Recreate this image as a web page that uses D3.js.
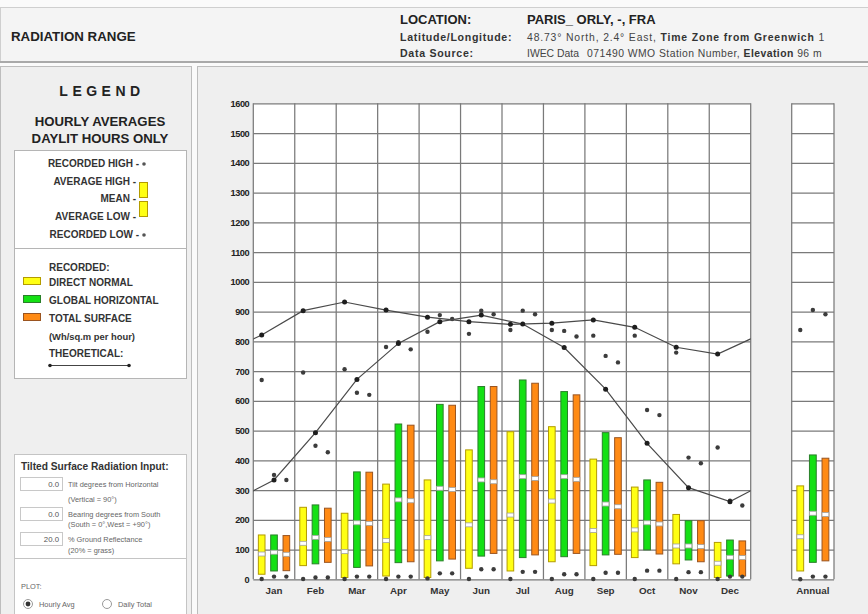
<!DOCTYPE html>
<html>
<head>
<meta charset="utf-8">
<script src="https://cdn.jsdelivr.net/npm/d3@7"></script>
<style>
  html, body { margin: 0; padding: 0; background: #ffffff; }
  svg { display: block; font-family: "Liberation Sans", Arial, sans-serif; }
</style>
</head>
<body>
<svg id="chart" width="868" height="614"></svg>
<script>
// ---- Data (Wh/sq.m per hour, hourly averages over daylit hours) ----
const months = ["Jan", "Feb", "Mar", "Apr", "May", "Jun", "Jul", "Aug", "Sep", "Oct", "Nov", "Dec"];
const yTicks = [0, 100, 200, 300, 400, 500, 600, 700, 800, 900, 1000, 1100, 1200, 1300, 1400, 1500, 1600];

// Direct normal
const directAvgHigh = [149, 242, 222, 320, 334, 435, 496, 513, 404, 310, 218, 124];
const directMean    = [85, 121, 93, 130, 140, 183, 216, 263, 164, 166, 112, 54];
const directAvgLow  = [17, 46, 6, 11, 6, 37, 28, 59, 46, 73, 52, 6];
const directRecHigh = [670, 695, 706, 781, 832, 825, 838, 838, 819, 819, 762, 443];
const directRecLow  = [1, 1, 1, 1, 3, 1, 1, 1, 1, 1, 1, 1];

// Global horizontal
const globalAvgHigh = [149, 250, 361, 522, 588, 648, 670, 631, 493, 334, 197, 132];
const globalMean    = [91, 141, 190, 267, 306, 334, 345, 345, 253, 190, 112, 74];
const globalAvgLow  = [28, 52, 40, 56, 62, 78, 73, 76, 82, 99, 65, 11];
const globalRecHigh = [351, 449, 627, 797, 888, 903, 903, 835, 751, 569, 409, 264];
const globalRecLow  = [9, 6, 9, 9, 20, 34, 25, 17, 22, 29, 24, 9];

// Total surface
const totalAvgHigh = [147, 239, 360, 518, 585, 648, 659, 620, 476, 326, 197, 129];
const totalMean    = [84, 134, 188, 264, 302, 328, 339, 336, 244, 186, 110, 73];
const totalAvgLow  = [29, 57, 45, 59, 68, 87, 82, 87, 84, 85, 59, 11];
const totalRecHigh = [334, 427, 620, 773, 875, 891, 891, 816, 729, 552, 390, 248];
const totalRecLow  = [9, 6, 9, 9, 20, 34, 25, 17, 22, 29, 24, 9];

// Theoretical clear-sky values
const theoDirect = [821, 903, 932, 905, 881, 866, 857, 861, 872, 847, 780, 757];
const theoGlobal = [334, 493, 672, 793, 866, 888, 858, 779, 639, 457, 308, 261];

// Annual figures: direct, global, total
const annualAvgHigh = [314, 418, 407];
const annualMean    = [143, 222, 218];
const annualAvgLow  = [28, 57, 62];
const annualRecHigh = [838, 905, 891];
const annualRecLow  = [0, 9, 9];

const seriesKeys = ["direct", "global", "total"];
const seriesFill   = { direct: "#ffff14", global: "#14e014", total: "#ff8a14" };
const seriesStroke = { direct: "#b39b00", global: "#2a7f2a", total: "#9a5420" };

const series = [
  { key: "direct", high: directAvgHigh, mean: directMean, low: directAvgLow, recHigh: directRecHigh, recLow: directRecLow },
  { key: "global", high: globalAvgHigh, mean: globalMean, low: globalAvgLow, recHigh: globalRecHigh, recLow: globalRecLow },
  { key: "total",  high: totalAvgHigh,  mean: totalMean,  low: totalAvgLow,  recHigh: totalRecHigh,  recLow: totalRecLow }
];

const svg = d3.select("#chart");

// ---- Page frame ----
svg.append("rect").attr("x", 0).attr("y", 0).attr("width", 868).attr("height", 614).attr("fill", "#fafafa");
svg.append("rect").attr("x", 0.5).attr("y", 7.5).attr("width", 868).attr("height", 54)
  .attr("fill", "#f4f4f4").attr("stroke", "#cfcfcf");
svg.append("line").attr("x1", 0).attr("x2", 868).attr("y1", 62).attr("y2", 62)
  .attr("stroke", "#a9a9a9").attr("stroke-width", 2);

// Header text
svg.append("text").attr("x", 11).attr("y", 41).attr("font-size", 13.3).attr("font-weight", "bold")
  .attr("fill", "#222").text("RADIATION RANGE");

svg.append("text").attr("x", 400).attr("y", 24).attr("font-size", 13).attr("font-weight", "bold")
  .attr("fill", "#222").text("LOCATION:");
svg.append("text").attr("x", 527).attr("y", 24).attr("font-size", 13).attr("font-weight", "bold")
  .attr("fill", "#222").text("PARIS_ ORLY, -, FRA");

svg.append("text").attr("x", 400).attr("y", 41).attr("font-size", 10.6).attr("font-weight", "bold")
  .attr("letter-spacing", 0.7).attr("fill", "#333").text("Latitude/Longitude:");
const lat = svg.append("text").attr("x", 527).attr("y", 41).attr("font-size", 10.4)
  .attr("letter-spacing", 0.85).attr("fill", "#444");
lat.append("tspan").text("48.73° North, 2.4° East, ");
lat.append("tspan").attr("font-weight", "bold").attr("fill", "#333").text("Time Zone from Greenwich");
lat.append("tspan").text(" 1");

svg.append("text").attr("x", 400).attr("y", 57).attr("font-size", 10.6).attr("font-weight", "bold")
  .attr("letter-spacing", 0.7).attr("fill", "#333").text("Data Source:");
svg.append("text").attr("x", 527).attr("y", 57).attr("font-size", 10.4)
  .attr("fill", "#444").text("IWEC Data");
const src = svg.append("text").attr("x", 587).attr("y", 57).attr("font-size", 10.4)
  .attr("letter-spacing", 0.45).attr("fill", "#444");
src.append("tspan").text("071490 WMO Station Number, ");
src.append("tspan").attr("font-weight", "bold").attr("fill", "#333").text("Elevation");
src.append("tspan").text(" 96 m");

// ---- Left legend panel ----
const leg = svg.append("g");
leg.append("rect").attr("x", 0.5).attr("y", 66.5).attr("width", 191).attr("height", 550)
  .attr("fill", "#efefef").attr("stroke", "#bdbdbd");

leg.append("text").attr("x", 102).attr("y", 96).attr("text-anchor", "middle").attr("font-size", 14)
  .attr("font-weight", "bold").attr("letter-spacing", 4.5).attr("fill", "#222").text("LEGEND");
leg.append("text").attr("x", 100).attr("y", 126).attr("text-anchor", "middle").attr("font-size", 13.2)
  .attr("font-weight", "bold").attr("fill", "#222").text("HOURLY AVERAGES");
leg.append("text").attr("x", 100).attr("y", 143).attr("text-anchor", "middle").attr("font-size", 13.2)
  .attr("font-weight", "bold").attr("fill", "#222").text("DAYLIT HOURS ONLY");

leg.append("rect").attr("x", 14.5).attr("y", 150.5).attr("width", 172).attr("height", 98)
  .attr("fill", "#ffffff").attr("stroke", "#b5b5b5");
leg.append("rect").attr("x", 14.5).attr("y", 248.5).attr("width", 172).attr("height", 130)
  .attr("fill", "#ffffff").attr("stroke", "#b5b5b5");

const legLabels = [
  ["RECORDED HIGH -", 167], ["AVERAGE HIGH -", 185], ["MEAN -", 202],
  ["AVERAGE LOW -", 220], ["RECORDED LOW -", 238]
];
legLabels.forEach(([t, yy]) => {
  leg.append("text").attr("x", t.startsWith("RECORDED") ? 139 : 136).attr("y", yy)
    .attr("text-anchor", "end").attr("font-size", 10).attr("font-weight", "bold")
    .attr("fill", "#333").text(t);
});
leg.append("circle").attr("cx", 144).attr("cy", 164).attr("r", 1.8).attr("fill", "#555");
leg.append("circle").attr("cx", 144).attr("cy", 235).attr("r", 1.8).attr("fill", "#555");
leg.append("rect").attr("x", 139.5).attr("y", 182.5).attr("width", 8).attr("height", 15)
  .attr("fill", seriesFill.direct).attr("stroke", seriesStroke.direct);
leg.append("rect").attr("x", 139.5).attr("y", 201.5).attr("width", 8).attr("height", 15)
  .attr("fill", seriesFill.direct).attr("stroke", seriesStroke.direct);

leg.append("text").attr("x", 49).attr("y", 271).attr("font-size", 10).attr("font-weight", "bold")
  .attr("fill", "#333").text("RECORDED:");
const swatches = [["direct", "DIRECT NORMAL", 286], ["global", "GLOBAL HORIZONTAL", 304], ["total", "TOTAL SURFACE", 322]];
swatches.forEach(([k, t, yy]) => {
  leg.append("rect").attr("x", 23.5).attr("y", yy - 8.5).attr("width", 17).attr("height", 7)
    .attr("fill", seriesFill[k]).attr("stroke", seriesStroke[k]);
  leg.append("text").attr("x", 49).attr("y", yy).attr("font-size", 10).attr("font-weight", "bold")
    .attr("fill", "#333").text(t);
});
leg.append("text").attr("x", 49).attr("y", 340).attr("font-size", 9.4).attr("font-weight", "bold")
  .attr("fill", "#333").text("(Wh/sq.m per hour)");
leg.append("text").attr("x", 49).attr("y", 357).attr("font-size", 10).attr("font-weight", "bold")
  .attr("fill", "#333").text("THEORETICAL:");
leg.append("line").attr("x1", 50).attr("x2", 129).attr("y1", 365.5).attr("y2", 365.5)
  .attr("stroke", "#444").attr("stroke-width", 1);
leg.append("circle").attr("cx", 50).attr("cy", 365.5).attr("r", 1.8).attr("fill", "#222");
leg.append("circle").attr("cx", 129).attr("cy", 365.5).attr("r", 1.8).attr("fill", "#222");

// Tilted surface inputs
leg.append("rect").attr("x", 14.5).attr("y", 454.5).attr("width", 172).attr("height", 104)
  .attr("fill", "#ffffff").attr("stroke", "#c4c4c4");
leg.append("rect").attr("x", 14.5).attr("y", 558.5).attr("width", 172).attr("height", 60)
  .attr("fill", "#ffffff").attr("stroke", "#c4c4c4");
leg.append("text").attr("x", 21).attr("y", 470).attr("font-size", 10.2).attr("font-weight", "bold")
  .attr("fill", "#333").text("Tilted Surface Radiation Input:");
const inputs = [["0.0", "Tilt degrees from Horizontal", "(Vertical = 90°)", 477, 502],
                ["0.0", "Bearing degrees from South", "(South = 0°,West = +90°)", 507, 527],
                ["20.0", "% Ground Reflectance", "(20% = grass)", 532, 553]];
inputs.forEach(([v, t1, t2, yy, y2]) => {
  leg.append("rect").attr("x", 20.5).attr("y", yy + 0.5).attr("width", 42).attr("height", 13)
    .attr("fill", "#ffffff").attr("stroke", "#c8c8c8");
  leg.append("text").attr("x", 59).attr("y", yy + 10).attr("text-anchor", "end").attr("font-size", 7.8)
    .attr("fill", "#555").text(v);
  leg.append("text").attr("x", 68).attr("y", yy + 10).attr("font-size", 7.4).attr("fill", "#666").text(t1);
  leg.append("text").attr("x", 68).attr("y", y2).attr("font-size", 7.4).attr("fill", "#666").text(t2);
});
leg.append("text").attr("x", 21).attr("y", 589).attr("font-size", 7.4).attr("fill", "#666").text("PLOT:");
leg.append("circle").attr("cx", 28).attr("cy", 604).attr("r", 4.5).attr("fill", "#fff").attr("stroke", "#999");
leg.append("circle").attr("cx", 28).attr("cy", 604).attr("r", 2.4).attr("fill", "#333");
leg.append("text").attr("x", 39).attr("y", 607).attr("font-size", 7.4).attr("fill", "#666").text("Hourly Avg");
leg.append("circle").attr("cx", 107).attr("cy", 604).attr("r", 4.5).attr("fill", "#fff").attr("stroke", "#999");
leg.append("text").attr("x", 118).attr("y", 607).attr("font-size", 7.4).attr("fill", "#666").text("Daily Total");

// ---- Main chart panel ----
svg.append("rect").attr("x", 197.5).attr("y", 66.5).attr("width", 672).attr("height", 550)
  .attr("fill", "#efefef").attr("stroke", "#bdbdbd");

const x = d3.scaleBand().domain(months).range([253.3, 750.7]);
const xa = d3.scaleBand().domain(["Annual"]).range([791.7, 834]);
const y = d3.scaleLinear().domain([0, 1600]).range([579.3, 103.3]);
const xs = d3.scaleBand().domain(seriesKeys).range([0, x.bandwidth()]).paddingInner(0.38).paddingOuter(0.37);
const xsa = d3.scaleBand().domain(seriesKeys).range([0, xa.bandwidth()]).paddingInner(0.38).paddingOuter(0.37);

function drawGrid(band, withAxis) {
  const [x0, x1] = band.range();
  const g = svg.append("g");
  g.append("rect").attr("x", x0).attr("y", y(1600)).attr("width", x1 - x0).attr("height", y(0) - y(1600))
    .attr("fill", "#ffffff");
  const gy = g.append("g").attr("transform", `translate(${x0},0)`)
    .call(d3.axisLeft(y).tickValues(yTicks).tickSize(-(x1 - x0)).tickPadding(4).tickFormat(d3.format("d")));
  gy.select(".domain").remove();
  gy.selectAll(".tick line").attr("stroke", "#7a7a7a").attr("stroke-width", 1.25);
  gy.selectAll(".tick text").attr("font-family", "Liberation Sans, Arial, sans-serif")
    .attr("font-size", 9.2).attr("font-weight", "bold").attr("fill", "#222")
    .attr("letter-spacing", -0.4);
  if (!withAxis) gy.selectAll(".tick text").remove();
  const edges = band.domain().map(d => band(d)).concat([x1]);
  g.selectAll("line.v").data(edges).join("line").attr("class", "v")
    .attr("x1", d => d).attr("x2", d => d).attr("y1", y(1600)).attr("y2", y(0))
    .attr("stroke", "#7a7a7a").attr("stroke-width", 1.25);
  const gx = g.append("g").attr("transform", `translate(0,${y(0)})`)
    .call(d3.axisBottom(band).tickSize(0).tickPadding(8));
  gx.select(".domain").remove();
  gx.selectAll(".tick text").attr("font-family", "Liberation Sans, Arial, sans-serif")
    .attr("font-size", 9.8).attr("font-weight", "bold").attr("fill", "#333");
}
drawGrid(x, true);
drawGrid(xa, false);

// Bars with mean markers and recorded extremes
function drawBars(band, sub, cats, rows) {
  const g = svg.append("g");
  rows.forEach(s => {
    const bw = sub.bandwidth();
    const cx = i => band(cats[i]) + sub(s.key);
    const idx = d3.range(cats.length);
    g.selectAll(null).data(idx).join("rect")
      .attr("x", i => cx(i) + 0.5).attr("y", i => y(s.high[i]))
      .attr("width", bw - 1).attr("height", i => y(s.low[i]) - y(s.high[i]))
      .attr("fill", seriesFill[s.key]).attr("stroke", seriesStroke[s.key]).attr("stroke-width", 1);
    g.selectAll(null).data(idx).join("rect")
      .attr("x", i => cx(i) + 0.5).attr("y", i => y(s.mean[i]) - 2)
      .attr("width", bw - 1).attr("height", 4)
      .attr("fill", "#ffffff").attr("stroke", "#a0a0a0").attr("stroke-width", 0.8);
    g.selectAll(null).data(idx).join("circle")
      .attr("cx", i => cx(i) + bw / 2).attr("cy", i => y(s.recHigh[i])).attr("r", 2.2)
      .attr("fill", "#3c3c3c");
    g.selectAll(null).data(idx).join("circle")
      .attr("cx", i => cx(i) + bw / 2).attr("cy", i => y(s.recLow[i])).attr("r", 2.2)
      .attr("fill", "#3c3c3c");
  });
}
drawBars(x, xs, months, series);
drawBars(xa, xsa, ["Annual"], seriesKeys.map((k, j) => ({
  key: k, high: [annualAvgHigh[j]], mean: [annualMean[j]], low: [annualAvgLow[j]],
  recHigh: [annualRecHigh[j]], recLow: [annualRecLow[j]]
})));

// Theoretical curves, continued across the year boundary and clipped to the plot
svg.append("clipPath").attr("id", "plotClip").append("rect")
  .attr("x", x.range()[0]).attr("y", y(1600)).attr("width", x.range()[1] - x.range()[0])
  .attr("height", y(0) - y(1600));

function drawTheo(vals, key) {
  const off = xs(key) + xs.bandwidth() / 2;
  const bw = x.bandwidth();
  const pts = vals.map((v, i) => [x(months[i]) + off, y(v)]);
  const ext = [[x(months[0]) - bw + off, y(vals[11])], ...pts, [x(months[11]) + bw + off, y(vals[0])]];
  const g = svg.append("g").attr("clip-path", "url(#plotClip)");
  g.append("path").attr("d", d3.line()(ext)).attr("fill", "none")
    .attr("stroke", "#4a4a4a").attr("stroke-width", 1.2);
  g.selectAll(null).data(pts).join("circle")
    .attr("cx", d => d[0]).attr("cy", d => d[1]).attr("r", 2.5).attr("fill", "#1e1e1e");
}
drawTheo(theoDirect, "direct");
drawTheo(theoGlobal, "global");
</script>
</body>
</html>
